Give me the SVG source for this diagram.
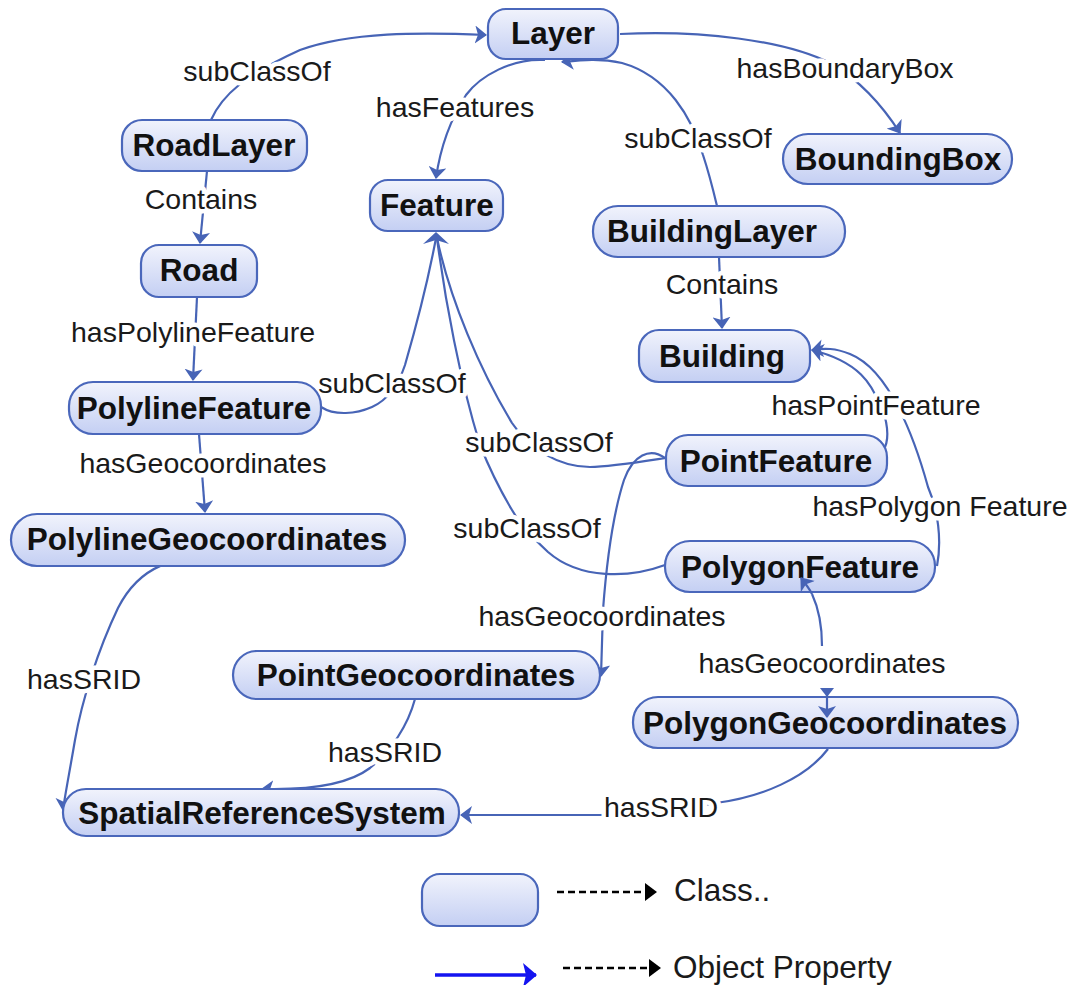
<svg xmlns="http://www.w3.org/2000/svg" width="1076" height="985" viewBox="0 0 1076 985">
<defs>
<linearGradient id="nodeFill" x1="0" y1="0" x2="0" y2="1">
<stop offset="0" stop-color="#f1f3fc"/>
<stop offset="1" stop-color="#c4cff3"/>
</linearGradient>
<marker id="arr" viewBox="0 0 12 18" refX="11" refY="9" markerWidth="12" markerHeight="18" markerUnits="userSpaceOnUse" orient="auto">
<path d="M0,0 L12,9 L0,18 L3,9 z" fill="#4764b6"/>
</marker>
<marker id="arrBlue" viewBox="0 0 14 24" refX="13" refY="12" markerWidth="14" markerHeight="24" markerUnits="userSpaceOnUse" orient="auto">
<path d="M0,0 L14,12 L0,24 L3,12 z" fill="#1414f0"/>
</marker>
<marker id="arrBlack" viewBox="0 0 12 18" refX="11" refY="9" markerWidth="12" markerHeight="18" markerUnits="userSpaceOnUse" orient="auto">
<path d="M0,0 L12,9 L0,18 z" fill="#000"/>
</marker>
<style>
.node rect{fill:url(#nodeFill);stroke:#4a67bb;stroke-width:2.2}
.node text{font-family:"Liberation Sans",Arial,sans-serif;font-weight:bold;font-size:31.5px;fill:#111;text-anchor:middle}
.edge{fill:none;stroke:#4764b6;stroke-width:2.2}
.lbl{font-family:"Liberation Sans",Arial,sans-serif;font-size:28.5px;fill:#1a1a1a;text-anchor:middle;stroke:#fff;stroke-width:9;stroke-linejoin:round;paint-order:stroke}
.leg{font-family:"Liberation Sans",Arial,sans-serif;font-size:31.5px;fill:#1a1a1a}
.dash{fill:none;stroke:#000;stroke-width:2.5;stroke-dasharray:7 4}
</style>
</defs>
<rect width="1076" height="985" fill="#fff"/>

<g id="connectors">
<!-- RoadLayer -> Layer -->
<path class="edge" d="M211,120 C222,95 245,75 300,50 C350,32 420,32 486,35" marker-end="url(#arr)"/>
<!-- Layer -> Feature -->
<path class="edge" d="M545,60 C512,58 480,76 466,95 C450,120 440,150 436,178" marker-end="url(#arr)"/>
<!-- Layer -> BoundingBox -->
<path class="edge" d="M620,34 C700,30 785,40 832,64 C862,82 884,108 900,133" marker-end="url(#arr)"/>
<!-- BuildingLayer -> Layer -->
<path class="edge" d="M717,206 C712,185 708,170 703,155 C692,118 668,76 622,63 C600,58 582,60 562,62" marker-end="url(#arr)"/>
<!-- RoadLayer -> Road -->
<path class="edge" d="M207,171 L200,243" marker-end="url(#arr)"/>
<!-- Road -> PolylineFeature -->
<path class="edge" d="M197,297 L193,380" marker-end="url(#arr)"/>
<!-- BuildingLayer -> Building -->
<path class="edge" d="M719,257 L722,328" marker-end="url(#arr)"/>
<!-- PolylineFeature -> PolylineGeocoordinates -->
<path class="edge" d="M199,434 L205,512" marker-end="url(#arr)"/>
<!-- PolylineFeature -> Feature -->
<path class="edge" d="M321,407 C335,416 356,414 372,407 C390,399 400,380 405,365 C418,320 430,270 436,238"/>
<!-- PointFeature -> Feature -->
<path class="edge" d="M666,458 C640,462 610,467 590,467 C560,467 530,450 512,423 C480,370 450,300 437,238"/>
<!-- PolygonFeature -> Feature -->
<path class="edge" d="M665,565 C630,578 580,580 548,552 C530,535 520,525 512,510 C500,490 490,470 480,445 C460,380 445,300 437,238"/>
<polygon points="436,232 449,244 436,240 423,244" fill="#4764b6"/>
<!-- PointFeature -> Building -->
<path class="edge" d="M885,447 C889,438 888,420 880,405 C872,385 860,362 812,350" marker-end="url(#arr)"/>
<!-- PolygonFeature -> Building -->
<path class="edge" d="M937,566 C942,540 938,510 928,487 C915,440 890,370 850,354 C835,348 825,348 812,350" marker-end="url(#arr)"/>
<!-- PolylineGeocoordinates -> SpatialReferenceSystem -->
<path class="edge" d="M205,565 C180,553 140,565 118,608 C98,650 82,700 75,740 C69,775 65,795 63,810" marker-end="url(#arr)"/>
<!-- PointFeature -> PointGeocoordinates -->
<path class="edge" d="M665,458 C650,447 633,455 624,480 C611,520 606,570 603,610 L601,676" marker-end="url(#arr)"/>
<!-- PolygonGeocoordinates -> PolygonFeature (line part) -->
<path class="edge" d="M822,646 C822,625 818,607 812,594"/>
<!-- PointGeocoordinates -> SpatialReferenceSystem -->
<path class="edge" d="M415,699 C408,725 392,750 370,768 C345,787 300,790 262,789" marker-end="url(#arr)"/>
<!-- PolygonGeocoordinates -> SpatialReferenceSystem -->
<path class="edge" d="M828,749 C806,778 762,797 716,803 C680,810 640,815 600,815 L461,815" marker-end="url(#arr)"/>

<g id="labels">
<text class="lbl" x="257" y="81">subClassOf</text>
<text class="lbl" x="455" y="117">hasFeatures</text>
<text class="lbl" x="845" y="78">hasBoundaryBox</text>
<text class="lbl" x="698" y="148">subClassOf</text>
<text class="lbl" x="201" y="209">Contains</text>
<text class="lbl" x="722" y="294">Contains</text>
<text class="lbl" x="193" y="342">hasPolylineFeature</text>
<text class="lbl" x="392" y="393">subClassOf</text>
<text class="lbl" x="876" y="415">hasPointFeature</text>
<text class="lbl" x="539" y="452">subClassOf</text>
<text class="lbl" x="203" y="473">hasGeocoordinates</text>
<text class="lbl" x="940" y="516">hasPolygon Feature</text>
<text class="lbl" x="527" y="538">subClassOf</text>
<text class="lbl" x="602" y="626">hasGeocoordinates</text>
<text class="lbl" x="822" y="673">hasGeocoordinates</text>
<text class="lbl" x="84" y="689">hasSRID</text>
<text class="lbl" x="385" y="762">hasSRID</text>
<text class="lbl" x="661" y="817">hasSRID</text>
</g>
</g>

<g id="Layer" class="node"><rect x="488" y="9" width="130" height="50" rx="18"/><text x="553" y="44">Layer</text></g>
<g id="RoadLayer" class="node"><rect x="122" y="120" width="185" height="51" rx="20"/><text x="214" y="156">RoadLayer</text></g>
<g id="Feature" class="node"><rect x="370" y="180" width="133" height="51" rx="18"/><text x="437" y="216">Feature</text></g>
<g id="BoundingBox" class="node"><rect x="783" y="134" width="229" height="50" rx="25"/><text x="898" y="170">BoundingBox</text></g>
<g id="BuildingLayer" class="node"><rect x="593" y="206" width="252" height="51" rx="25"/><text x="712" y="242">BuildingLayer</text></g>
<g id="Road" class="node"><rect x="141" y="245" width="116" height="52" rx="18"/><text x="199" y="281">Road</text></g>
<g id="Building" class="node"><rect x="639" y="330" width="171" height="52" rx="20"/><text x="722" y="367">Building</text></g>
<g id="PolylineFeature" class="node"><rect x="69" y="382" width="252" height="52" rx="24"/><text x="194" y="419">PolylineFeature</text></g>
<g id="PointFeature" class="node"><rect x="666" y="435" width="221" height="51" rx="22"/><text x="776" y="472">PointFeature</text></g>
<g id="PolylineGeocoordinates" class="node"><rect x="11" y="514" width="394" height="52" rx="26"/><text x="207" y="550">PolylineGeocoordinates</text></g>
<g id="PolygonFeature" class="node"><rect x="665" y="541" width="270" height="51" rx="25"/><text x="800" y="578">PolygonFeature</text></g>
<g id="PointGeocoordinates" class="node"><rect x="233" y="651" width="367" height="48" rx="24"/><text x="416" y="686">PointGeocoordinates</text></g>
<g id="PolygonGeocoordinates" class="node"><rect x="633" y="697" width="385" height="51" rx="25"/><text x="825" y="734">PolygonGeocoordinates</text></g>
<g id="SpatialReferenceSystem" class="node"><rect x="63" y="789" width="396" height="47" rx="23"/><text x="262" y="824">SpatialReferenceSystem</text></g>

<g id="connectorTips">
<path class="edge" d="M812,594 C809,588 805,583 801,578" marker-end="url(#arr)"/>
<path class="edge" d="M827,692 L827,717" marker-end="url(#arr)"/>
<polygon points="820,688 834,688 827,697" fill="#4764b6"/>
</g>

<g id="legend">
<g id="legendClass" class="node"><rect x="422" y="874" width="116" height="52" rx="18"/></g>
<path class="dash" d="M557,892 L656,892" marker-end="url(#arrBlack)"/>
<text class="leg" x="674" y="901">Class..</text>
<path d="M435,975 L536,975" stroke="#1414f0" stroke-width="3.5" fill="none" marker-end="url(#arrBlue)"/>
<path class="dash" d="M563,968 L660,968" marker-end="url(#arrBlack)"/>
<text class="leg" x="673" y="978">Object Property</text>
</g>
</svg>
